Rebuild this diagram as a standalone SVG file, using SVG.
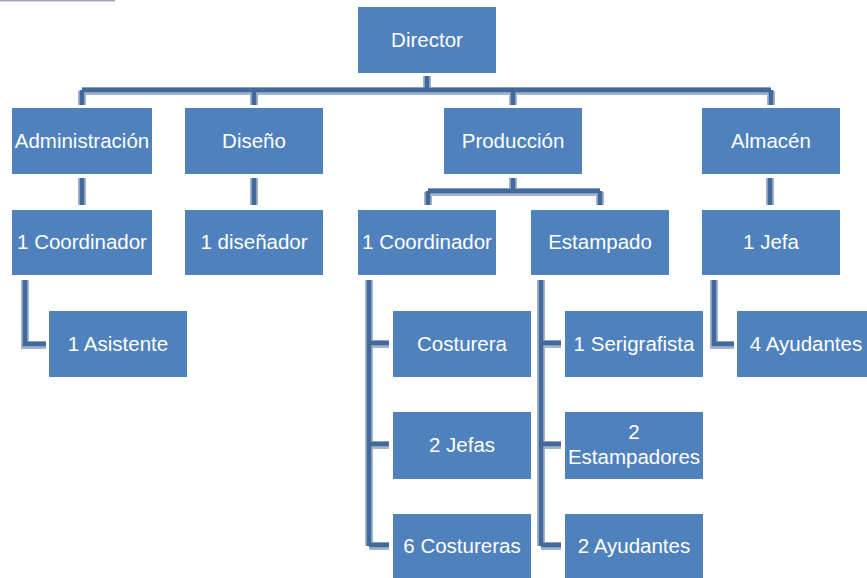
<svg xmlns="http://www.w3.org/2000/svg" width="867" height="578" viewBox="0 0 867 578">
<style>
.box{fill:#4f81bd}
.t{font-family:"Liberation Sans",Arial,sans-serif;font-size:20.5px;fill:#ffffff;text-anchor:middle}
.sh{fill:none;stroke:#a2b5ce;stroke-width:8}
.ln{fill:none;stroke:#41699b;stroke-width:4.5}
</style>
<rect x="0" y="0" width="115" height="1.5" fill="#a9a5b5"/>
<g id="connectors">
<g class="sh">
<path d="M427 76V91"/><path d="M82 91H771"/>
<path d="M82 91V105M254 91V105M513 91V105M771 91V105"/>
<path d="M82 178V205M254 178V205M770 178V205"/>
<path d="M513 178V192M428 192H600M428 192V205M600 192V205"/>
<path d="M25 280V345H46"/>
<path d="M369 280V546M369 344H389M369 445H389M369 546H389"/>
<path d="M541 280V546M541 344H561M541 445H561M541 546H561"/>
<path d="M714 280V345H734"/>
</g>
<g class="ln">
<path d="M427 76V90"/><path d="M82 90H771"/>
<path d="M82 90V105M254 90V105M513 90V105M771 90V105"/>
<path d="M82 178V205M254 178V205M770 178V205"/>
<path d="M513 178V191M428 191H600M428 191V205M600 191V205"/>
<path d="M25 280V344H46"/>
<path d="M369 280V546M369 343H389M369 444H389M369 545H389"/>
<path d="M541 280V546M541 343H561M541 444H561M541 545H561"/>
<path d="M714 280V344H734"/>
</g>
</g>
<g id="director"><rect class="box" x="358" y="7" width="138" height="66"/><text class="t" x="427" y="47">Director</text></g>
<g id="administracion"><rect class="box" x="12" y="108" width="140" height="66"/><text class="t" x="82" y="148">Administración</text></g>
<g id="diseno"><rect class="box" x="185" y="108" width="138" height="66"/><text class="t" x="254" y="148">Diseño</text></g>
<g id="produccion"><rect class="box" x="444" y="108" width="138" height="66"/><text class="t" x="513" y="148">Producción</text></g>
<g id="almacen"><rect class="box" x="702" y="108" width="138" height="66"/><text class="t" x="771" y="148">Almacén</text></g>
<g id="coord-admin"><rect class="box" x="12" y="210" width="140" height="65"/><text class="t" x="82" y="249">1 Coordinador</text></g>
<g id="disenador"><rect class="box" x="185" y="210" width="138" height="65"/><text class="t" x="254" y="249">1 diseñador</text></g>
<g id="coord-prod"><rect class="box" x="358" y="210" width="138" height="65"/><text class="t" x="427" y="249">1 Coordinador</text></g>
<g id="estampado"><rect class="box" x="531" y="210" width="138" height="65"/><text class="t" x="600" y="249">Estampado</text></g>
<g id="jefa"><rect class="box" x="702" y="210" width="138" height="65"/><text class="t" x="771" y="249">1 Jefa</text></g>
<g id="asistente"><rect class="box" x="49" y="311" width="138" height="66"/><text class="t" x="118" y="351">1 Asistente</text></g>
<g id="costurera"><rect class="box" x="393" y="311" width="138" height="66"/><text class="t" x="462" y="351">Costurera</text></g>
<g id="jefas"><rect class="box" x="393" y="412" width="138" height="67"/><text class="t" x="462" y="452">2 Jefas</text></g>
<g id="costureras"><rect class="box" x="393" y="514" width="138" height="65"/><text class="t" x="462" y="553">6 Costureras</text></g>
<g id="serigrafista"><rect class="box" x="565" y="311" width="138" height="66"/><text class="t" x="634" y="351">1 Serigrafista</text></g>
<g id="estampadores"><rect class="box" x="565" y="412" width="138" height="67"/><text class="t" x="634" y="439">2</text><text class="t" x="634" y="464">Estampadores</text></g>
<g id="ayudantes2"><rect class="box" x="565" y="514" width="138" height="65"/><text class="t" x="634" y="553">2 Ayudantes</text></g>
<g id="ayudantes4"><rect class="box" x="737" y="311" width="138" height="66"/><text class="t" x="806" y="351">4 Ayudantes</text></g>
</svg>
